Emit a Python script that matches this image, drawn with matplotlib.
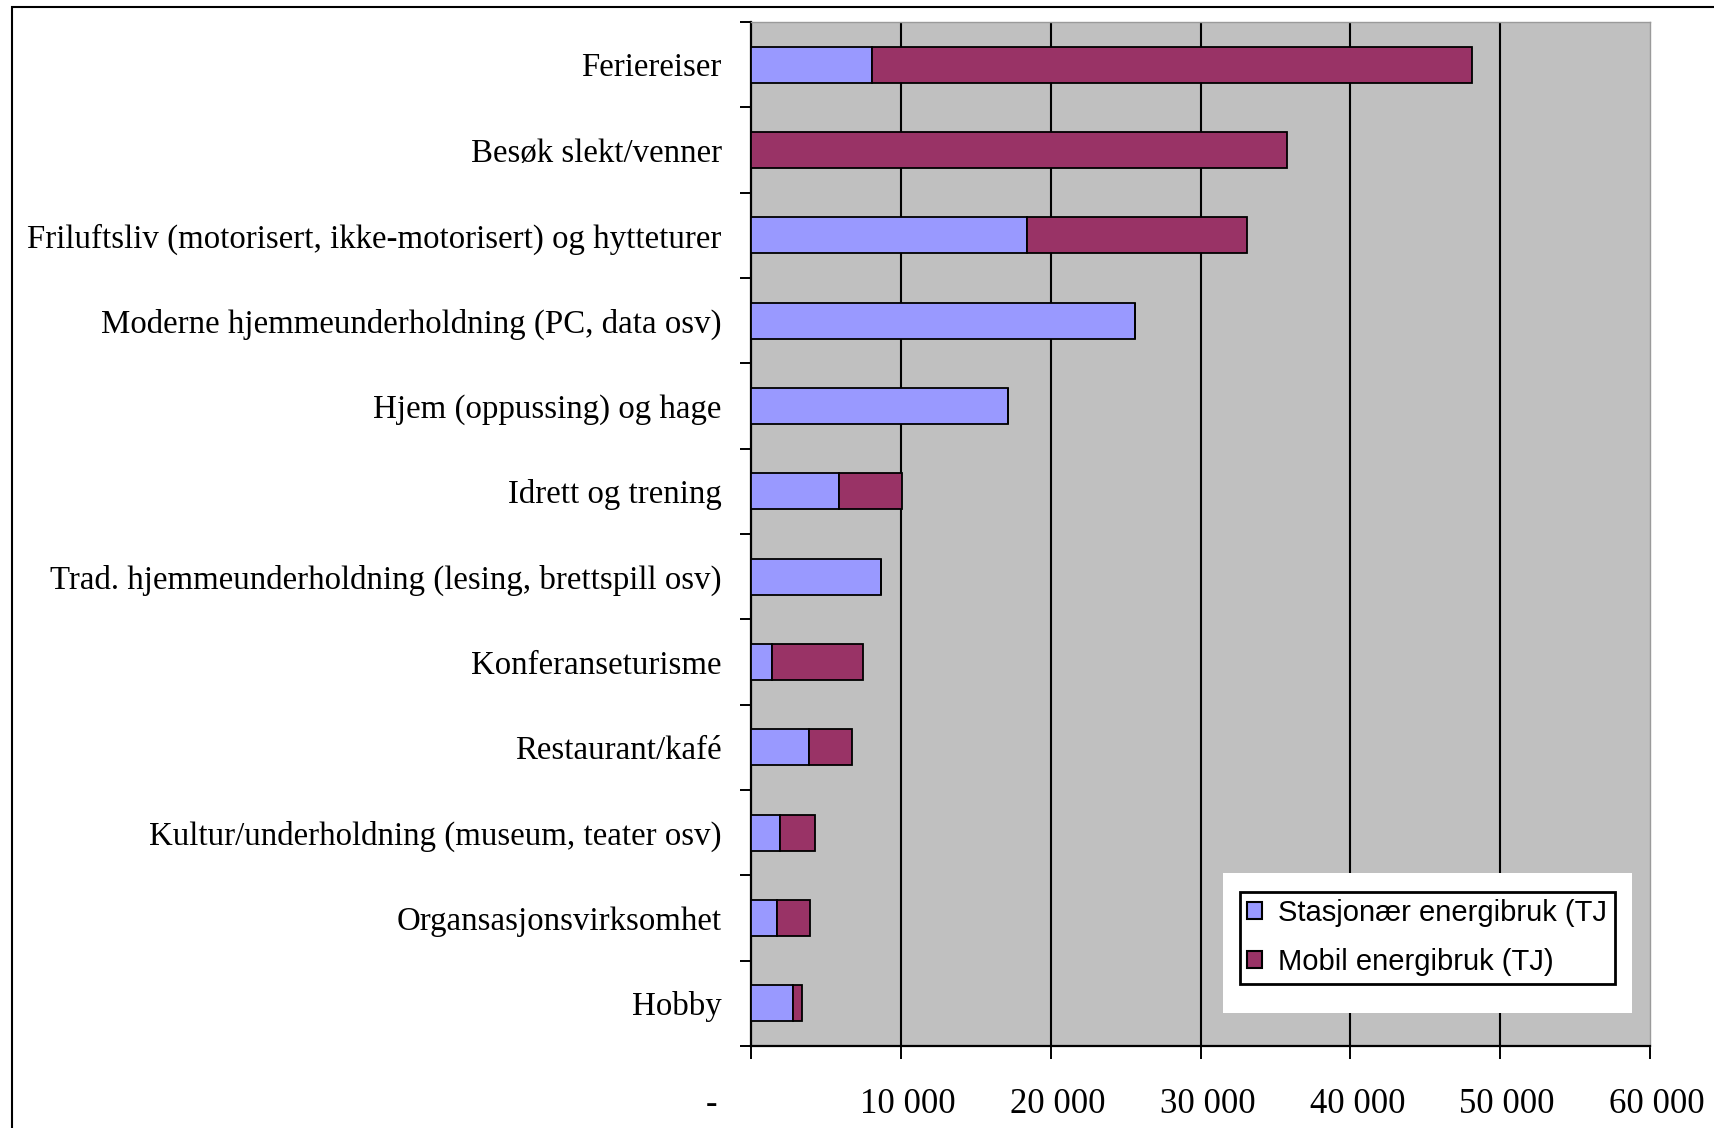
import matplotlib
matplotlib.use("Agg")
import matplotlib.pyplot as plt
import matplotlib.transforms as mtransforms
from matplotlib.patches import Rectangle, Patch
import numpy as np

categories = [
    "Feriereiser",
    "Besøk slekt/venner",
    "Friluftsliv (motorisert, ikke-motorisert) og hytteturer",
    "Moderne hjemmeunderholdning (PC, data osv)",
    "Hjem (oppussing) og hage",
    "Idrett og trening",
    "Trad. hjemmeunderholdning (lesing, brettspill osv)",
    "Konferanseturisme",
    "Restaurant/kafé",
    "Kultur/underholdning (museum, teater osv)",
    "Organsasjonsvirksomhet",
    "Hobby",
]
stasjonaer = [8100, 0, 18400, 25650, 17170, 5850, 8680, 1420, 3890, 1930, 1760, 2820]
mobil = [40000, 35750, 14690, 0, 0, 4240, 0, 6030, 2870, 2360, 2150, 560]
series_labels = ["Stasjonær energibruk (TJ", "Mobil energibruk (TJ)"]
xticks = [0, 10000, 20000, 30000, 40000, 50000, 60000]
xticklabels = ["-", "10 000", "20 000", "30 000", "40 000", "50 000", "60 000"]

BLUE = "#9999FF"
PURPLE = "#993366"
GRAY = "#C0C0C0"

W, H = 1715, 1128
DPI = 100
fig = plt.figure(figsize=(W / DPI, H / DPI), dpi=DPI)
fig.patch.set_facecolor("white")

ax = fig.add_axes([751 / W, (H - 1046) / H, 899 / W, 1024 / H])
ax.set_facecolor(GRAY)

y = np.arange(len(categories))
bh = 0.42
ax.barh(y, stasjonaer, height=bh, color=BLUE, edgecolor="black", linewidth=1.3, zorder=3)
ax.barh(y, mobil, left=stasjonaer, height=bh, color=PURPLE, edgecolor="black", linewidth=1.3, zorder=3)

ax.set_xlim(0, 60000)
ax.set_ylim(len(categories) - 0.5, -0.5)

# grid
ax.set_xticks(xticks)
ax.xaxis.grid(True, color="black", linewidth=1.5, zorder=1)
ax.set_axisbelow(True)
gls = ax.get_xgridlines()
gls[0].set_visible(False)
gls[-1].set_visible(False)

# spines
for s in ["left", "bottom"]:
    ax.spines[s].set_color("black")
    ax.spines[s].set_linewidth(1.6)
for s in ["top", "right"]:
    ax.spines[s].set_color("#9a9a9a")
    ax.spines[s].set_linewidth(1.0)

# x ticks
ax.set_xticklabels(xticklabels, fontfamily="Liberation Serif", fontsize=25)
ax.tick_params(axis="x", direction="out", length=9.4, width=1.4, pad=33, color="black")
for i, lab in enumerate(ax.get_xticklabels()):
    lab.set_va("center")
    dx = (-39 if i == 0 else 7) / DPI
    lab.set_transform(lab.get_transform() + mtransforms.ScaledTranslation(dx, 0, fig.dpi_scale_trans))

# y ticks
ax.set_yticks(y)
ax.set_yticklabels(categories, fontfamily="Liberation Serif", fontsize=20)
ax.tick_params(axis="y", which="major", length=0, pad=21)
ax.set_yticks(np.arange(-0.5, len(categories), 1.0), minor=True)
ax.tick_params(axis="y", which="minor", direction="out", length=8, width=1.4, color="black")

# fit category label size to reference width
fig.canvas.draw()
r = fig.canvas.get_renderer()
wmax = max(t.get_window_extent(r).width for t in ax.get_yticklabels())
fs = 20 * 694 / wmax
for t in ax.get_yticklabels():
    t.set_fontsize(fs)

# legend background
ax.add_patch(Rectangle((1223 / W, (H - 1013) / H), (1632 - 1223) / W, (1013 - 873) / H,
                       transform=fig.transFigure, facecolor="white", edgecolor="none",
                       zorder=4, clip_on=False))
handles = [Patch(facecolor=BLUE, edgecolor="black", linewidth=1.5),
           Patch(facecolor=PURPLE, edgecolor="black", linewidth=1.5)]
leg = ax.legend(handles, series_labels, loc="upper left",
                bbox_to_anchor=(1240 / W, (H - 892) / H), bbox_transform=fig.transFigure,
                prop={"family": "Liberation Sans", "size": 21},
                frameon=True, fancybox=False, framealpha=1, edgecolor="black",
                borderpad=0.25, handlelength=0.52, handleheight=0.52,
                handletextpad=0.55, labelspacing=0.72, borderaxespad=0)
leg.get_frame().set_linewidth(2)
leg.set_zorder(5)

# figure border (left & top visible)
fig.add_artist(Rectangle((12 / W, -0.05), 1.0, 1 - 7 / H + 0.05, transform=fig.transFigure,
                         fill=False, edgecolor="black", linewidth=1.5))

fig.savefig("out.png", dpi=DPI)
